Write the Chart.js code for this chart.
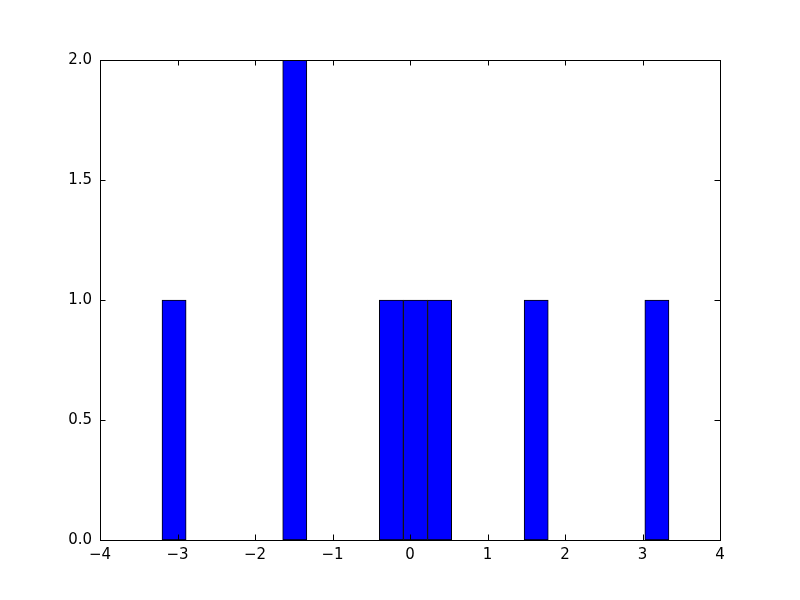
<!DOCTYPE html>
<html>
<head>
<meta charset="utf-8">
<script src="https://cdn.jsdelivr.net/npm/chart.js@4/dist/chart.umd.min.js"></script>
<style>
  html, body { margin: 0; padding: 0; background: #ffffff; }
  canvas { display: block; }
</style>
</head>
<body>
<canvas id="c" width="800" height="600"></canvas>
<script>
// Histogram bin centers (21 equal bins) and counts
const binCenters = [-3.0443, -2.7328, -2.4213, -2.1098, -1.7983, -1.4868, -1.1753,
                    -0.8638, -0.5523, -0.2408, 0.0708, 0.3823, 0.6938, 1.0053,
                    1.3168, 1.6283, 1.9398, 2.2513, 2.5628, 2.8743, 3.1858];
const binCounts  = [1, 0, 0, 0, 0, 2, 0, 0, 0, 1, 1, 1, 0, 0, 0, 1, 0, 0, 0, 0, 1];
const xTicks = [-4, -3, -2, -1, 0, 1, 2, 3, 4];
const yTicks = [0.0, 0.5, 1.0, 1.5, 2.0];

const FONT = { family: 'DejaVu Sans', size: 15 };

const framePlugin = {
  id: 'frame',
  afterDraw(chart) {
    const { ctx, chartArea: a, scales } = chart;
    const L = 5.5;
    ctx.save();
    ctx.strokeStyle = '#000';
    ctx.lineWidth = 1;
    ctx.beginPath();
    scales.x.ticks.forEach((t, i) => {
      const px = Math.round(scales.x.getPixelForTick(i)) + 0.5;
      ctx.moveTo(px, a.bottom); ctx.lineTo(px, a.bottom - L);
      ctx.moveTo(px, a.top); ctx.lineTo(px, a.top + L);
    });
    scales.y.ticks.forEach((t, i) => {
      const py = Math.round(scales.y.getPixelForTick(i)) + 0.5;
      ctx.moveTo(a.left, py); ctx.lineTo(a.left + L, py);
      ctx.moveTo(a.right, py); ctx.lineTo(a.right - L, py);
    });
    ctx.stroke();
    ctx.strokeRect(Math.round(a.left) + 0.5, Math.round(a.top) + 0.5,
                   Math.round(a.right - a.left), Math.round(a.bottom - a.top));
    ctx.restore();
  }
};

new Chart(document.getElementById('c'), {
  type: 'bar',
  data: {
    datasets: [{
      data: binCenters.map((c, i) => ({ x: c, y: binCounts[i] })),
      backgroundColor: '#0000ff',
      borderColor: '#000000',
      borderWidth: 1,
      borderSkipped: false,
      categoryPercentage: 1.0,
      barPercentage: 1.0
    }]
  },
  options: {
    responsive: false,
    animation: false,
    events: [],
    layout: { padding: { top: 60, right: 80, left: 0, bottom: 0 } },
    plugins: { legend: { display: false }, tooltip: { enabled: false } },
    scales: {
      x: {
        type: 'linear',
        offset: false,
        min: -4, max: 4,
        afterBuildTicks: s => { s.ticks = xTicks.map(v => ({ value: v })); },
        afterFit: s => { s.height = 60; },
        grid: { display: false, drawTicks: false, offset: false },
        border: { display: false },
        ticks: {
          color: '#000', font: FONT, padding: 6, maxRotation: 0, autoSkip: false,
          callback: v => String(v).replace('-', '\u2212')
        }
      },
      y: {
        type: 'linear',
        min: 0, max: 2,
        afterBuildTicks: s => { s.ticks = yTicks.map(v => ({ value: v })); },
        afterFit: s => { s.width = 100; },
        grid: { display: false, drawTicks: false },
        border: { display: false },
        ticks: {
          color: '#000', font: FONT, padding: 8, autoSkip: false,
          callback: v => Number(v).toFixed(1)
        }
      }
    }
  },
  plugins: [framePlugin]
});
</script>
</body>
</html>
